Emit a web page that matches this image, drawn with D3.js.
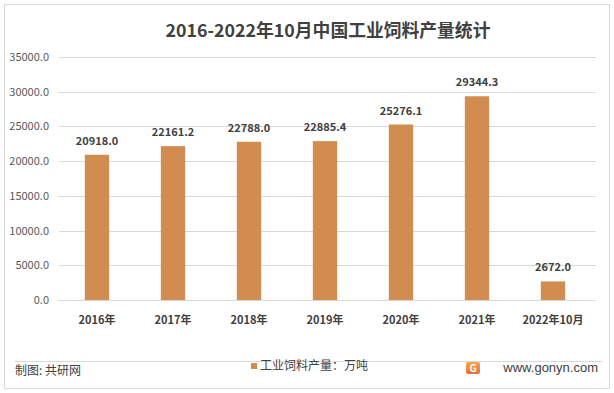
<!DOCTYPE html>
<html><head><meta charset="utf-8">
<script src="https://cdn.jsdelivr.net/npm/d3@7"></script>
<style>body{margin:0;background:#fff;}svg{display:block;font-family:"Microsoft YaHei","Noto Sans CJK SC",sans-serif;}</style>
</head><body><svg id="c" width="614" height="393"></svg>
<script>
const categories = ["2016年","2017年","2018年","2019年","2020年","2021年","2022年10月"];
const values = [20918.0,22161.2,22788.0,22885.4,25276.1,29344.3,2672.0];
const yTicks = [0,5000,10000,15000,20000,25000,30000,35000];
const seriesName = "工业饲料产量：万吨";
const svg = d3.select("#c");
svg.append("rect").attr("x",4.5).attr("y",4.5).attr("width",605).attr("height",384).attr("fill","#fff").attr("stroke","#d9d9d9");
svg.append("text").attr("x",328).attr("y",37).attr("text-anchor","middle").attr("font-size",17.8).attr("font-weight","bold").attr("fill","#404040").text("2016-2022年10月中国工业饲料产量统计");
const x = d3.scaleBand().domain(categories).range([59,591]).paddingInner(0.68).paddingOuter(0.34);
const y = d3.scaleLinear().domain([0,35000]).range([300,57]);
const g = svg.append("g");
g.selectAll("line.grid").data(yTicks).enter().append("line").attr("class","grid")
 .attr("x1",59).attr("x2",596).attr("y1",d=>Math.round(y(d))+0.5).attr("y2",d=>Math.round(y(d))+0.5).attr("stroke","#d9d9d9");
g.selectAll("text.yt").data(yTicks).enter().append("text").attr("class","yt")
 .attr("x",49).attr("y",d=>y(d)+4).attr("text-anchor","end").attr("font-size",11).attr("fill","#595959").text(d=>d3.format(".1f")(d));
g.selectAll("rect.bar").data(values).enter().append("rect").attr("class","bar")
 .attr("x",(d,i)=>x(categories[i])).attr("width",x.bandwidth()).attr("y",d=>y(d)).attr("height",d=>y(0)-y(d)).attr("fill","#d38c4f");
g.selectAll("text.vl").data(values).enter().append("text").attr("class","vl")
 .attr("x",(d,i)=>x(categories[i])+x.bandwidth()/2).attr("y",d=>y(d)-10).attr("text-anchor","middle").attr("font-size",11).attr("font-weight","bold").attr("fill","#404040").text(d=>d3.format(".1f")(d));
g.selectAll("text.xl").data(categories).enter().append("text").attr("class","xl")
 .attr("x",d=>x(d)+x.bandwidth()/2).attr("y",324).attr("text-anchor","middle").attr("font-size",11).attr("font-weight","bold").attr("fill","#404040").text(d=>d);
svg.append("line").attr("x1",15).attr("x2",602).attr("y1",361.5).attr("y2",361.5).attr("stroke","#d9d9d9");
svg.append("text").attr("x",15).attr("y",375).attr("font-size",12).attr("fill","#404040").text("制图: 共研网");
svg.append("rect").attr("x",251).attr("y",363).attr("width",6).attr("height",6).attr("fill","#d38c4f");
svg.append("text").attr("x",260).attr("y",370).attr("font-size",12).attr("fill","#404040").text(seriesName);
const defs = svg.append("defs");
const lg = defs.append("linearGradient").attr("id","lg").attr("x1",0).attr("y1",0).attr("x2",0).attr("y2",1);
lg.append("stop").attr("offset","0%").attr("stop-color","#f7a84a");
lg.append("stop").attr("offset","100%").attr("stop-color","#ec6a3a");
svg.append("rect").attr("x",466).attr("y",362).attr("width",14).attr("height",12).attr("rx",2).attr("fill","url(#lg)");
svg.append("text").attr("x",473).attr("y",372).attr("text-anchor","middle").attr("font-size",10).attr("font-weight","bold").attr("fill","#fff").text("G");
svg.append("text").attr("x",598).attr("y",372).attr("text-anchor","end").attr("font-size",13).attr("fill","#404040").attr("font-family","Arial, Liberation Sans, sans-serif").text("www.gonyn.com");
</script></body></html>
